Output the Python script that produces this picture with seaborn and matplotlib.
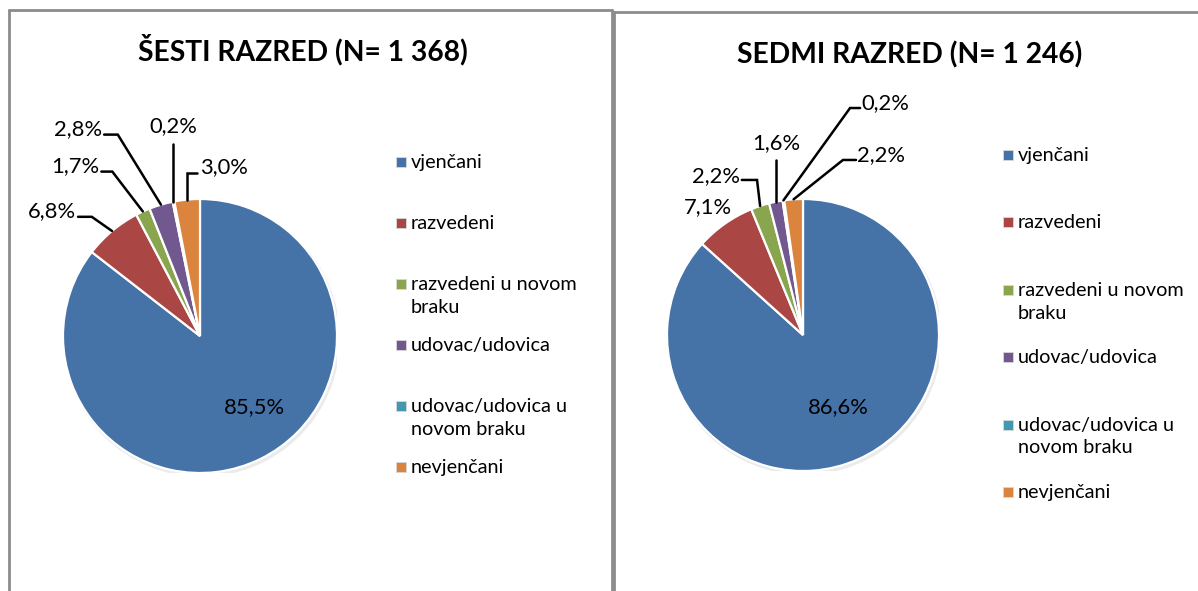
import numpy as np
import matplotlib
matplotlib.use("Agg")
import matplotlib.pyplot as plt
from matplotlib.patches import Rectangle
from matplotlib.lines import Line2D
import seaborn as sns

# ---------------- data ----------------
categories = ["vjenčani", "razvedeni", "razvedeni u novom\nbraku", "udovac/udovica",
              "udovac/udovica u\nnovom braku", "nevjenčani"]
sesti_values = [85.5, 6.8, 1.7, 2.8, 0.2, 3.0]
sedmi_values = [86.6, 7.1, 2.2, 1.6, 0.2, 2.2]
sesti_title = "ŠESTI RAZRED (N= 1 368)"
sedmi_title = "SEDMI RAZRED (N= 1 246)"

sns.set_theme(style="white")
plt.rcParams['font.family'] = ['Lato', 'DejaVu Sans']

palette = sns.color_palette(["#4572A7", "#AA4643", "#89A54E", "#71588F", "#4198AF", "#DB843D"])

W, H = 1198, 591
fig = plt.figure(figsize=(W / 100, H / 100), dpi=100)
fig.patch.set_facecolor("white")

LABEL_FS = 15.8
LEGEND_FS = 14.3
TITLE_FS = 20.3


def fx(px):
    return px / W


def fy(py):
    return 1 - py / H


# panel borders
border_col = "#8c8c8c"
for xs, ys in [([9, 9], [10, 600]), ([9, 612], [10, 10]), ([612, 612], [10, 600]),
               ([614, 614], [12, 600]), ([614, 1210], [12, 12])]:
    fig.add_artist(Line2D([fx(x) for x in xs], [fy(y) for y in ys], color=border_col,
                          lw=2.0, transform=fig.transFigure))


def fmt(v):
    return f"{v:.1f}%".replace(".", ",")


def draw_panel(values, title, cx, cy, r, title_pos, label_layout, inner_pos,
               legend_x, legend_y0, legend_dy):
    ax = fig.add_axes([fx(cx - r), fy(cy + r), 2 * r / W, 2 * r / H])
    # subtle shadow
    ax.add_patch(plt.Circle((0.012, -0.018), 1.01, color="#000000", alpha=0.08, lw=0, zorder=0))
    wedges, _ = ax.pie(values, colors=palette, startangle=90, counterclock=False, radius=1,
                       wedgeprops=dict(edgecolor="white", linewidth=1.6), frame=False)
    for w in wedges:
        w.set_zorder(2)
    ax.set_xlim(-1, 1)
    ax.set_ylim(-1, 1)
    ax.set_aspect("equal")
    ax.axis("off")

    total = float(np.sum(values))
    cum = np.cumsum(values)
    for i, v in enumerate(values):
        mid = cum[i] - v / 2
        theta = np.deg2rad(90 - 360 * mid / total)
        axp, ayp = np.cos(theta), np.sin(theta)
        if i == 0:
            ax.text(inner_pos[0], inner_pos[1], fmt(v), ha="center", va="center",
                    fontsize=LABEL_FS, color="black", zorder=5)
            continue
        lay = label_layout[i - 1]
        pts = [(axp, ayp)]
        for (px_, py_) in lay["path"]:
            pts.append((axp if px_ is None else px_, py_))
        if len(pts) > 1:
            ax.plot([p[0] for p in pts], [p[1] for p in pts], color="black", lw=1.8,
                    clip_on=False, zorder=4, solid_joinstyle="miter")
        tx, ty = lay["text"]
        ax.text(axp if tx is None else tx, ty, fmt(v), ha=lay["ha"], va="center",
                fontsize=LABEL_FS, color="black", clip_on=False)

    fig.text(fx(title_pos[0]), fy(title_pos[1]), title, ha="center", va="center",
             fontsize=TITLE_FS, fontweight="bold", color="black")

    # legend
    for i, cat in enumerate(categories):
        yc = legend_y0 + i * legend_dy
        fig.add_artist(Rectangle((fx(legend_x), fy(yc + 5)), 10 / W, 10 / H,
                                 facecolor=palette[i], edgecolor="#d8d8d8", lw=0.6,
                                 transform=fig.transFigure))
        fig.text(fx(legend_x + 15), fy(yc - 8), cat, ha="left", va="top",
                 fontsize=LEGEND_FS, color="black", linespacing=1.42)


left_layout = [
    dict(path=[(-0.79, 0.87), (-0.89, 0.87)], text=(-0.905, 0.91), ha="right"),
    dict(path=[(-0.64, 1.20), (-0.72, 1.20)], text=(-0.735, 1.24), ha="right"),
    dict(path=[(-0.60, 1.47), (-0.70, 1.47)], text=(-0.715, 1.51), ha="right"),
    dict(path=[(None, 1.40)], text=(None, 1.535), ha="center"),
    dict(path=[(None, 1.19), (-0.02, 1.19)], text=(0.0, 1.23), ha="left"),
]
right_layout = [
    dict(path=[], text=(-0.70, 0.94), ha="center"),
    dict(path=[(-0.338, 1.14), (-0.45, 1.14)], text=(-0.463, 1.17), ha="right"),
    dict(path=[(None, 1.29)], text=(None, 1.41), ha="center"),
    dict(path=[(0.346, 1.669), (0.42, 1.669)], text=(0.43, 1.705), ha="left"),
    dict(path=[(0.294, 1.287), (0.39, 1.287)], text=(0.40, 1.325), ha="left"),
]

draw_panel(sesti_values, sesti_title, 200, 336, 137, (303, 50), left_layout, (0.394, -0.518),
           396, 162, 61)
draw_panel(sedmi_values, sedmi_title, 803, 335, 136, (910, 55), right_layout, (0.257, -0.529),
           1003, 155, 67.4)

fig.savefig("out.png", dpi=100, facecolor="white")
